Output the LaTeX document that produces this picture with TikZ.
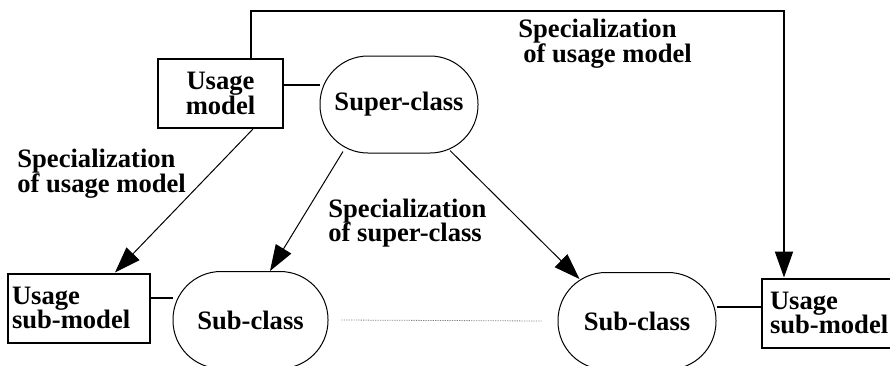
\documentclass[tikz,border=0pt]{standalone}
\usepackage{fontspec}
\setmainfont{Liberation Serif}
\usetikzlibrary{arrows.meta,positioning}

\begin{document}
\begin{tikzpicture}[x=0.5pt,y=-0.5pt,
    font=\fontsize{13.3}{12.3}\selectfont\bfseries,
    box/.style={draw,line width=1pt,inner sep=0pt,minimum height=34.5pt},
    oval/.style={draw,line width=0.5pt,rounded corners=24pt,minimum width=79pt,minimum height=48.5pt},
    arr/.style={line width=0.5pt,-{Triangle[length=13pt,width=9pt]}},
    lbl/.style={align=left,inner sep=0pt,anchor=west}]
  \useasboundingbox (0,0) rectangle (890,365);

  % class nodes
  \node[oval] (super) at (399,104.5) {Super-class};
  \node[oval,minimum width=77.5pt] (subL) at (250.5,320) {Sub-class};
  \node[oval] (subR) at (637,321) {Sub-class};

  % usage models
  \node[box,minimum width=62.5pt,align=center] (usage) at (220.5,93.5) {Usage\\model};
  \node[box,text width=67pt,inner xsep=2pt,align=left] (subusageL) at (79,308) {Usage\\sub-model};
  \node[box,text width=62pt,inner xsep=4pt,align=left,anchor=west] (subusageR) at (761,313) {Usage\\sub-model};

  % labels
  \node[lbl] (lblL) at (17,174) {Specialization\\of usage model};
  \node[lbl] (lblM) at (328,223) {Specialization\\of super-class};
  \node[lbl] (lblT) at (518,44) {Specialization\\\hspace{2.5pt}of usage model};

  % plain links
  \coordinate (ua) at ([yshift=4.25pt]usage.east);
  \coordinate (sl) at ([yshift=5pt]subusageL.east);
  \coordinate (sr) at ([yshift=3pt]subusageR.west);
  \draw[line width=1pt] (ua) -- (ua -| super.west);
  \draw[line width=1pt] (sl) -- (sl -| subL.west);
  \draw[line width=1pt] (sr) -- (sr -| subR.east);
  \draw[gray,line width=0.4pt,dash pattern=on 0.6pt off 0.6pt]
    ([xshift=6.5pt]subL.east) -- ([xshift=-8pt]subR.west);

  % specializations
  \coordinate (top) at (784,11);
  \draw[arr,line width=1pt] ([xshift=15pt]usage.north) |- (top) -- ([xshift=11.5pt]subusageR.north west);
  \draw[arr] ([xshift=16.25pt]usage.south) -- ([xshift=18pt]subusageL.north);
  \draw[arr] ([xshift=-28pt,yshift=1pt]super.south) -- ([xshift=9.75pt]subL.north);
  \draw[arr] ([xshift=25.5pt,yshift=1.5pt]super.south) -- ([xshift=11pt,yshift=-3.5pt]subR.north west);
\end{tikzpicture}
\end{document}
